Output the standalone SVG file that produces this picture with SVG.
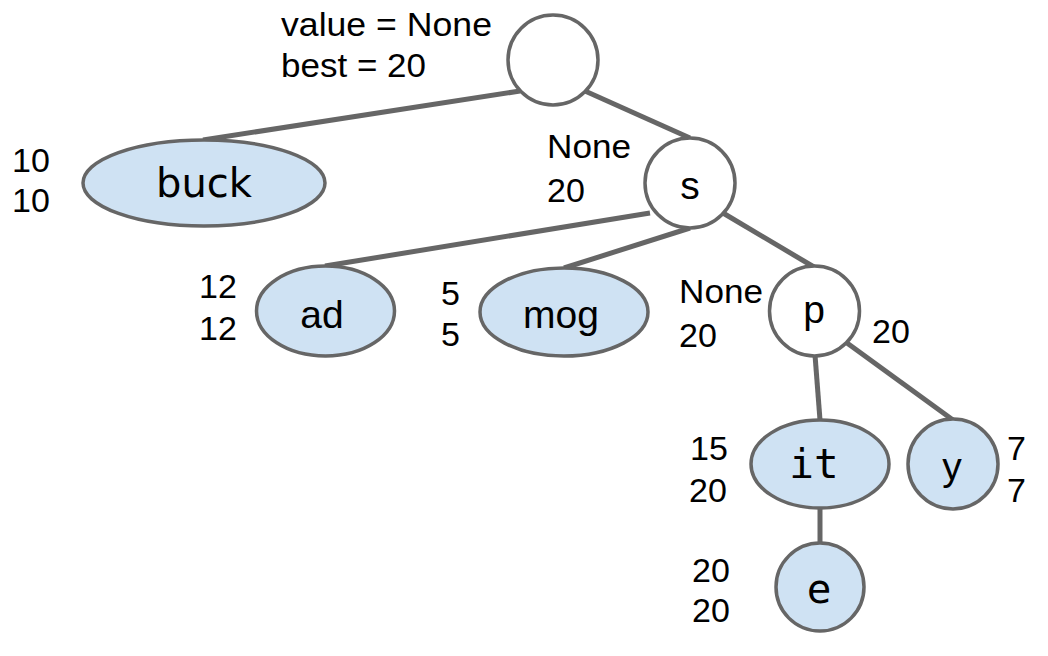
<svg xmlns="http://www.w3.org/2000/svg" width="1048" height="656" viewBox="0 0 1048 656">
<style>
.edge{stroke:#666;stroke-width:5;fill:none;stroke-linecap:butt}
.leaf{fill:#cfe2f3;stroke:#666;stroke-width:3.5}
.inner{fill:#fff;stroke:#666;stroke-width:3.5}
.lbl{font-family:"Liberation Sans",Arial,sans-serif;font-size:34px;fill:#000}
.n{font-size:40px;fill:#000;text-anchor:middle}
.sans{font-family:"Liberation Sans",Arial,sans-serif;font-size:39px}
.dv{font-family:"DejaVu Sans",sans-serif}
.mono{font-family:"DejaVu Sans Mono",monospace;font-size:41px}
</style>
<rect width="1048" height="656" fill="#fff"/>
<g id="connectors">
<line class="edge" x1="520" y1="91" x2="203" y2="140"/>
<line class="edge" x1="585" y1="91" x2="690" y2="138"/>
<line class="edge" x1="650" y1="213" x2="325" y2="266"/>
<line class="edge" x1="690" y1="228" x2="564" y2="268"/>
<line class="edge" x1="723" y1="213" x2="814" y2="267"/>
<line class="edge" x1="815" y1="355" x2="820" y2="420"/>
<line class="edge" x1="847" y1="343" x2="953" y2="420"/>
<line class="edge" x1="820" y1="508" x2="820" y2="543"/>
</g>
<g id="root">
<circle class="inner" cx="553" cy="60" r="45"/>
<text class="lbl" x="281" y="36" textLength="211" lengthAdjust="spacingAndGlyphs">value = None</text>
<text class="lbl" x="281" y="77" textLength="145" lengthAdjust="spacingAndGlyphs">best = 20</text>
</g>
<g id="buck">
<ellipse class="leaf" cx="204" cy="183" rx="121" ry="43"/>
<text class="n dv" x="204" y="197">buck</text>
<text class="lbl" x="12" y="172">10</text>
<text class="lbl" x="12" y="212">10</text>
</g>
<g id="s">
<circle class="inner" cx="690" cy="183" r="45"/>
<text class="n sans" x="690" y="199">s</text>
<text class="lbl" x="547" y="158" textLength="84" lengthAdjust="spacingAndGlyphs">None</text>
<text class="lbl" x="547" y="202">20</text>
</g>
<g id="ad">
<ellipse class="leaf" cx="325.5" cy="311" rx="69" ry="45"/>
<text class="n sans" x="322" y="328">ad</text>
<text class="lbl" x="199" y="298">12</text>
<text class="lbl" x="199" y="340">12</text>
</g>
<g id="mog">
<ellipse class="leaf" cx="564" cy="312" rx="84" ry="44"/>
<text class="n sans" x="561" y="328">mog</text>
<text class="lbl" x="441" y="305">5</text>
<text class="lbl" x="441" y="346">5</text>
</g>
<g id="p">
<circle class="inner" cx="814.5" cy="311" r="45"/>
<text class="n sans" x="814" y="323">p</text>
<text class="lbl" x="679" y="303" textLength="84" lengthAdjust="spacingAndGlyphs">None</text>
<text class="lbl" x="679" y="347">20</text>
<text class="lbl" x="872" y="343">20</text>
</g>
<g id="it">
<ellipse class="leaf" cx="820" cy="464" rx="69" ry="44"/>
<text class="n mono" x="814" y="478">it</text>
<text class="lbl" x="690" y="460">15</text>
<text class="lbl" x="689" y="502">20</text>
</g>
<g id="y">
<circle class="leaf" cx="953" cy="464" r="45"/>
<text class="n sans" x="952" y="480">y</text>
<text class="lbl" x="1007" y="460">7</text>
<text class="lbl" x="1007" y="502">7</text>
</g>
<g id="e">
<circle class="leaf" cx="820" cy="587" r="44"/>
<text class="n mono" x="819" y="603">e</text>
<text class="lbl" x="692" y="582">20</text>
<text class="lbl" x="692" y="622">20</text>
</g>
</svg>
